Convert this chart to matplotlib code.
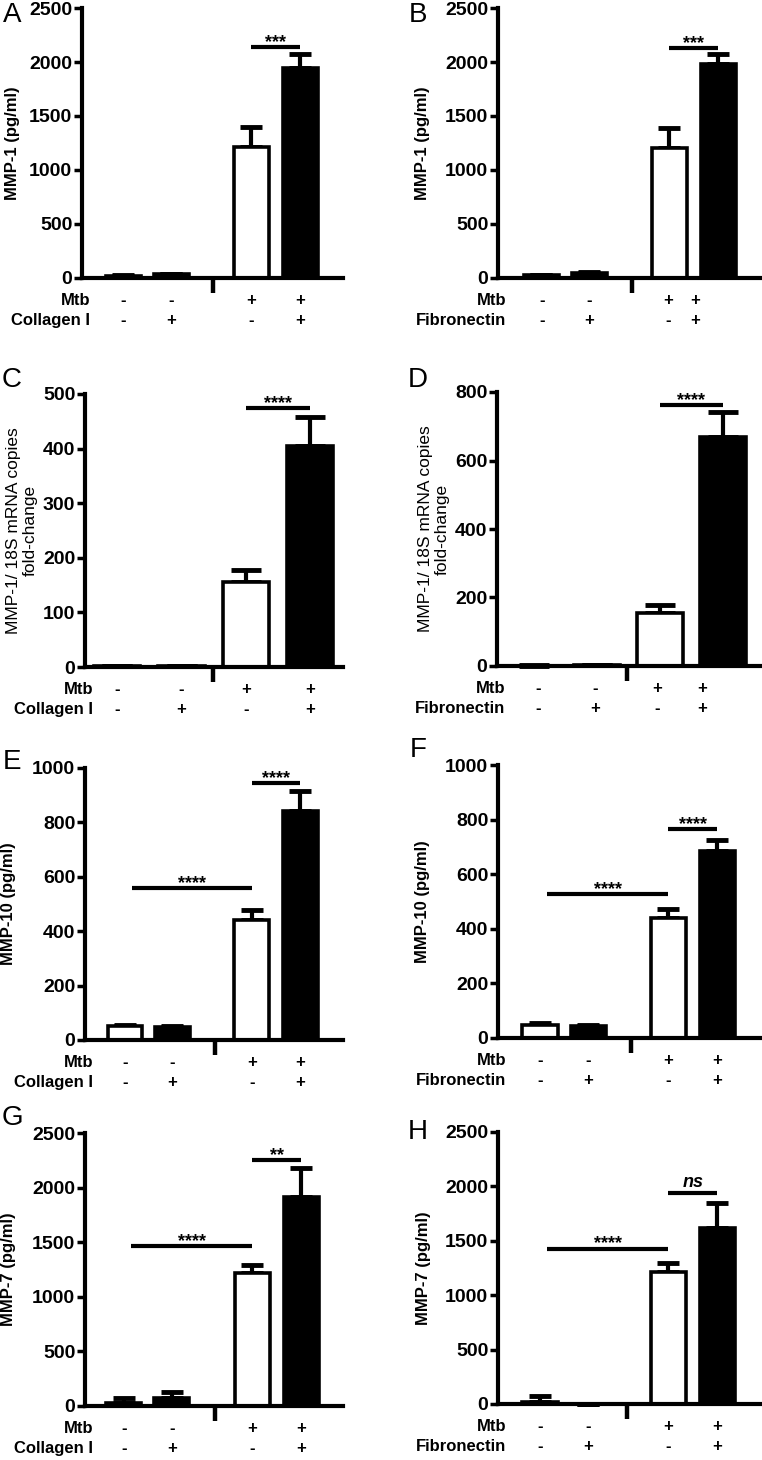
import matplotlib
matplotlib.use("Agg")
from matplotlib import pyplot as plt
from matplotlib import transforms
import numpy as np

plt.rcParams['font.family'] = ['Liberation Sans', 'DejaVu Sans']
plt.rcParams['font.weight'] = 'bold'

W, H = 762, 1460

mtb_row = ['-', '-', '+', '+']
matrix_row = ['-', '+', '-', '+']
bar_colors = ['white', 'black', 'white', 'black']

# A: MMP-1 secretion, collagen I
a_mean = [20, 35, 1210, 1945]
a_err = [4, 5, 185, 130]
# B: MMP-1 secretion, fibronectin
b_mean = [25, 48, 1205, 1980]
b_err = [4, 6, 185, 90]
# C: MMP-1 mRNA, collagen I
c_mean = [1, 2, 155, 405]
c_err = [0.5, 0.5, 22, 52]
# D: MMP-1 mRNA, fibronectin
d_mean = [1, 2, 156, 668]
d_err = [0.5, 0.5, 22, 75]
# E: MMP-10, collagen I
e_mean = [50, 48, 443, 841]
e_err = [6, 2, 34, 75]
# F: MMP-10, fibronectin
f_mean = [49, 45, 440, 685]
f_err = [6, 2, 33, 42]
# G: MMP-7, collagen I
g_mean = [26, 72, 1216, 1912]
g_err = [50, 52, 77, 268]
# H: MMP-7, fibronectin
h_mean = [22, 0, 1216, 1620]
h_err = [52, 0, 76, 228]

# significance: (bar i, bar j, height, label)
a_sig = [(2, 3, 2141, '***')]
b_sig = [(2, 3, 2128, '***')]
c_sig = [(2, 3, 475, '****')]
d_sig = [(2, 3, 763, '****')]
e_sig = [(0, 2, 557, '****'), (2, 3, 945, '****')]
f_sig = [(0, 2, 528, '****'), (2, 3, 766, '****')]
g_sig = [(0, 2, 1461, '****'), (2, 3, 2249, '**')]
h_sig = [(0, 2, 1429, '****'), (2, 3, 1940, 'ns')]

mmp1 = 'MMP-1 (pg/ml)'
mrna = 'MMP-1/ 18S mRNA copies\nfold-change'
mmp10 = 'MMP-10 (pg/ml)'
mmp7 = 'MMP-7 (pg/ml)'

wide = [0, 1, 2.67, 3.69]
even = [0, 1, 2, 3]

fig = plt.figure(figsize=(W / 100, H / 100), dpi=100)


def panel(letter, box, letter_xy, mean, err, sig, ylab, ymax, ystep, matrix,
          pos, xlim, brk, width=0.73, cap=8, lab_x=None, ylab_x=-0.28,
          ylab_bold=True):
    l, r, t, b = box
    ax = fig.add_axes([l / W, 1 - b / H, (r - l) / W, (b - t) / H])
    hpx = b - t
    ax.bar(pos, mean, width=width, color=bar_colors, edgecolor='black',
           linewidth=2.6, zorder=2, clip_on=False)
    ax.errorbar(pos, mean, yerr=[np.zeros(len(err)), err], fmt='none',
                ecolor='black', elinewidth=3, capsize=cap, capthick=3.5,
                zorder=1, clip_on=False)
    ax.set_xlim(*xlim)
    ax.set_ylim(0, ymax)
    ax.set_yticks(np.arange(0, ymax + 1, ystep))
    ax.set_xticks([])
    for s in ['top', 'right']:
        ax.spines[s].set_visible(False)
    for s in ['left', 'bottom']:
        ax.spines[s].set_linewidth(3)
    ax.tick_params(axis='y', length=6, width=2.5, labelsize=14, pad=1)
    ax.set_ylabel(ylab, fontsize=12.5 if not ylab_bold else 12,
                  fontweight='bold' if ylab_bold else 'normal', va='center')
    ax.yaxis.set_label_coords(ylab_x, 0.5)

    trans = transforms.blended_transform_factory(ax.transData, ax.transAxes)
    ax.plot([brk, brk], [0, -15 / hpx], transform=trans, clip_on=False,
            color='black', lw=3.2, solid_capstyle='butt')

    for i, j, y, txt in sig:
        x1 = pos[i] + (0.15 if i == 0 else 0)
        x2 = pos[j]
        ax.plot([x1, x2], [y, y], color='black', lw=3, clip_on=False,
                solid_capstyle='butt')
        if txt == 'ns':
            ax.annotate(txt, xy=((x1 + x2) / 2, y), xytext=(0, 4),
                        textcoords='offset points', ha='center',
                        va='baseline', fontsize=13, fontstyle='italic')
        else:
            ax.annotate(txt, xy=((x1 + x2) / 2, y), xytext=(0, 0),
                        textcoords='offset points', ha='center',
                        va='baseline', fontsize=13)

    if lab_x is None:
        lab_x = pos
    for k, x in enumerate(lab_x):
        ax.annotate(mtb_row[k], xy=(x, 0), xycoords=trans, xytext=(0, -16),
                    textcoords='offset points', ha='center', va='center',
                    fontsize=12)
        ax.annotate(matrix_row[k], xy=(x, 0), xycoords=trans,
                    xytext=(0, -30.5), textcoords='offset points',
                    ha='center', va='center', fontsize=12)
    ax.annotate('Mtb', xy=(0, 0), xycoords='axes fraction', xytext=(6, -16),
                textcoords='offset points', ha='right', va='center',
                fontsize=12)
    ax.annotate(matrix, xy=(0, 0), xycoords='axes fraction',
                xytext=(6, -30.5), textcoords='offset points', ha='right',
                va='center', fontsize=12)

    fig.text(letter_xy[0] / W, 1 - letter_xy[1] / H, letter, fontsize=20,
             fontweight='normal', ha='center', va='center')
    return ax


panel('A', (82, 343, 8, 278), (12, 15), a_mean, a_err, a_sig, mmp1, 2500, 500,
      'Collagen I', wide, (-0.86, 4.58), 1.875, ylab_x=-0.268)
panel('B', (498, 760, 8, 278), (418, 15), b_mean, b_err, b_sig, mmp1, 2500,
      500, 'Fibronectin', wide, (-0.9, 4.56), 1.9,
      lab_x=[0.02, 1.0, 2.65, 3.2], ylab_x=-0.29)
panel('C', (85, 343, 394, 667), (12, 380), c_mean, c_err, c_sig, mrna, 500,
      100, 'Collagen I', even, (-0.5, 3.51), 1.49, width=0.72, cap=11,
      ylab_x=-0.244, ylab_bold=False)
panel('D', (497, 760, 392, 666), (418, 380), d_mean, d_err, d_sig, mrna, 800,
      200, 'Fibronectin', even, (-0.59, 3.59), 1.48, width=0.73, cap=11,
      lab_x=[0.06, 0.97, 1.95, 2.67], ylab_x=-0.24, ylab_bold=False)
panel('E', (85, 343, 768, 1040), (12, 762), e_mean, e_err, e_sig, mmp10, 1000,
      200, 'Collagen I', wide, (-0.84, 4.59), 1.9, ylab_x=-0.295)
panel('F', (498, 760, 765, 1038), (418, 750), f_mean, f_err, f_sig, mmp10,
      1000, 200, 'Fibronectin', wide, (-0.875, 4.58), 1.9, ylab_x=-0.29)
panel('G', (85, 343, 1133, 1406), (12, 1118), g_mean, g_err, g_sig, mmp7,
      2500, 500, 'Collagen I', wide, (-0.81, 4.56), 1.9, ylab_x=-0.295)
panel('H', (498, 760, 1132, 1404), (418, 1132), h_mean, h_err, h_sig, mmp7,
      2500, 500, 'Fibronectin', wide, (-0.875, 4.58), 1.81, ylab_x=-0.286)

fig.savefig('out.png', dpi=100)
